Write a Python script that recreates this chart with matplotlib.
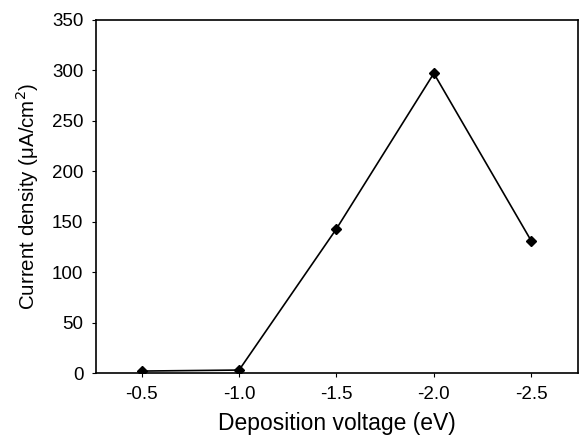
import matplotlib
matplotlib.use("Agg")
import matplotlib.pyplot as plt

plt.rcParams['font.family'] = ['Liberation Sans', 'DejaVu Sans']

voltage = [-0.5, -1.0, -1.5, -2.0, -2.5]
current = [2, 3, 143, 297, 131]
xticks = [-0.5, -1.0, -1.5, -2.0, -2.5]
yticks = [0, 50, 100, 150, 200, 250, 300, 350]

fig = plt.figure(figsize=(5.85, 4.41), dpi=100)
ax = fig.add_axes([0.164, 0.154, 0.824, 0.801])

ax.plot(voltage, current, color='black', linewidth=1.2,
        marker='D', markersize=5, markerfacecolor='black')

ax.set_xlim(-0.265, -2.74)
ax.set_ylim(0, 350)
ax.set_xticks(xticks)
ax.set_xticklabels([f"{v:.1f}" for v in xticks])
ax.set_yticks(yticks)

ax.tick_params(direction='out', length=3, width=0.8, labelsize=13.5, pad=6)
for s in ax.spines.values():
    s.set_linewidth(1.2)

ax.set_xlabel('Deposition voltage (eV)', fontsize=16.5, labelpad=7)
ax.set_ylabel('Current density (\u03bcA/cm$^2$)', fontsize=14.8, labelpad=8)

fig.savefig('out.png', dpi=100)
